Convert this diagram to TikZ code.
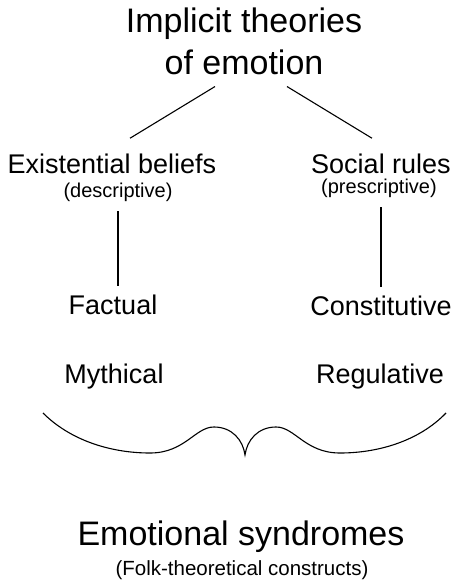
\documentclass[tikz,border=0pt]{standalone}
\usepackage{fontspec}
\setmainfont{Liberation Sans}
\usetikzlibrary{positioning}

\begin{document}
\begin{tikzpicture}[x=1pt,y=1pt,
		big/.style={font=\fontsize{34}{42}\selectfont,inner sep=0pt,anchor=base,align=center},
		mid/.style={font=\fontsize{27}{32}\selectfont,inner sep=0pt,anchor=base},
		paren/.style={font=\fontsize{20}{24}\selectfont,inner sep=0pt,anchor=base},
		ln/.style={line width=1.1pt}]
		\useasboundingbox (0,0) rectangle (456,-580);
		
		\node[big] (theo) at (244,-75) {Implicit theories\\of emotion};
		\node[mid] (exist) at (112,-173) {Existential beliefs};
		\node[paren] (desc) at (118,-197) {(descriptive)};
		\node[mid] (social) at (381,-173) {Social rules};
		\node[paren] (presc) at (379,-193) {(prescriptive)};
		\node[mid] (fact) at (113,-314) {Factual};
		\node[mid] (const) at (381,-315) {Constitutive};
		\node[mid] (myth) at (114,-383) {Mythical};
		\node[mid] (regu) at (380,-383) {Regulative};
		\node[big] (synd) at (241,-545) {Emotional syndromes};
		\node[paren,font=\fontsize{20.5}{25}\selectfont] (folk) at (242,-575) {(Folk-theoretical constructs)};
		
		\draw[ln] ([shift={(-29,-11)}]theo.south) -- ([shift={(18,15)}]exist.north);
		\draw[ln] ([shift={(43,-11)}]theo.south) -- ([shift={(-9,15)}]social.north);
		\draw[ln,shorten <=10pt,shorten >=8pt] (desc.south) -- (desc.south |- fact.north);
		\draw[ln,shorten <=8pt,shorten >=10pt] (const.north) -- (const.north |- presc.south);
		
		% brace
		\draw[ln] (43,-413) .. controls (70,-440) and (110,-453) .. (150,-453)
			.. controls (185,-453) and (195,-427) .. (214,-427)
			.. controls (232,-427) and (243,-440) .. (245,-455)
			.. controls (247,-440) and (258,-427) .. (276,-427)
			.. controls (295,-427) and (305,-453) .. (340,-453)
			.. controls (380,-453) and (420,-440) .. (446,-413);
\end{tikzpicture}
\end{document}
